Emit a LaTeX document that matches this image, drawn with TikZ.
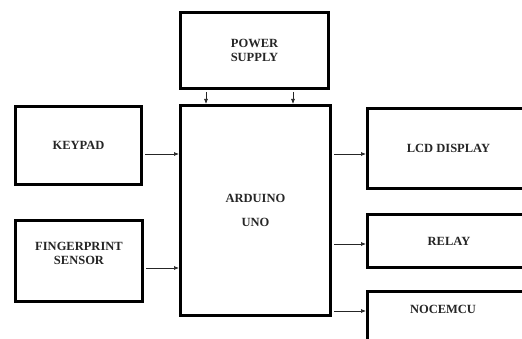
\documentclass[tikz,border=0pt]{standalone}
\usepackage{fontspec}
\setmainfont{Liberation Serif}
\usetikzlibrary{arrows.meta, positioning}
\definecolor{InkGray}{rgb}{0.15, 0.15, 0.15}

\begin{document}
\begin{tikzpicture}[
    x=1pt, y=-1pt,
    font=\fontsize{12.5}{14}\selectfont\bfseries,
    block/.style={draw=black, line width=3pt, fill=white, align=center,
        text=InkGray, inner sep=0pt},
    flow/.style={-{Latex[length=5pt, width=4pt]}, line width=0.7pt, InkGray,
        shorten <=2pt},
]
\useasboundingbox (0,0) rectangle (522,339);
\clip (0,0) rectangle (522,339);

% bloque central
\node[block, minimum width=150pt, minimum height=210pt] (arduino) at (255.5,210.5)
    {ARDUINO\\[10pt]UNO};
\node[block, minimum width=148pt, minimum height=76pt] (power) at (254.5,50.5)
    {POWER\\SUPPLY};

% entradas
\node[block, minimum width=126pt, minimum height=78pt] (keypad) at (78.5,145.5)
    {KEYPAD};
\node[block, minimum width=127pt, minimum height=81pt, text depth=15pt] (finger) at (79,261)
    {FINGERPRINT\\SENSOR};

% salidas (cortadas por el borde)
\node[block, minimum width=162pt, minimum height=80pt] (lcd) at (448.5,148.5)
    {LCD DISPLAY};
\node[block, minimum width=163pt, minimum height=53pt] (relay) at (449,241)
    {RELAY};
\node[block, minimum width=162pt, minimum height=80pt, anchor=north] (mcu) at (448.5,289.5) {};
\node[text=InkGray] (mcutxt) at (443,309) {NOCEMCU};

% alimentacion
\draw[flow] ([xshift=-48.5pt]power.south) -- ([xshift=-48.5pt]power.south |- arduino.north);
\draw[flow] ([xshift=38.5pt]power.south) -- ([xshift=38.5pt]power.south |- arduino.north);

% flujos de entrada
\draw[flow] ([yshift=-8.5pt]keypad.east) -- ([yshift=-8.5pt]keypad.east -| arduino.west);
\draw[flow] ([yshift=-7pt]finger.east) -- ([yshift=-7pt]finger.east -| arduino.west);

% flujos de salida
\draw[flow] ([yshift=-5.5pt]lcd.west -| arduino.east) -- ([yshift=-5.5pt]lcd.west);
\draw[flow] ([yshift=-3pt]relay.west -| arduino.east) -- ([yshift=-3pt]relay.west);
\draw[flow] ([yshift=-21.5pt]mcu.north west -| arduino.east) -- ([yshift=-21.5pt]mcu.north west);

\end{tikzpicture}
\end{document}
